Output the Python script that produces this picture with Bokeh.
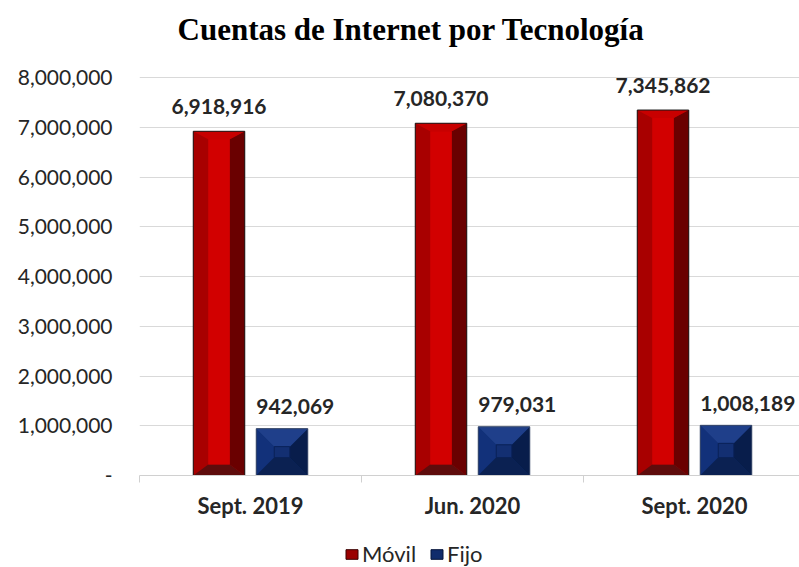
from bokeh.plotting import figure
from bokeh.models import Range1d, FixedTicker, Title, Legend, LegendItem, NumeralTickFormatter
from bokeh.layouts import column
from bokeh.core.properties import value
from bokeh.embed import file_html
from bokeh.resources import INLINE

# ---- data ----
categories = ["Sept. 2019", "Jun. 2020", "Sept. 2020"]
movil = [6918916, 7080370, 7345862]
fijo = [942069, 979031, 1008189]
y_ticks = [0, 1000000, 2000000, 3000000, 4000000, 5000000, 6000000, 7000000, 8000000]
title_text = "Cuentas de Internet por Tecnología"
series_names = ["Móvil", "Fijo"]

FONT = "Lato"
W, H = 799, 530
LEG_H = 37
BL, BR, BT, BB = 139, 0, 55, 55
FW, FH = W - BL - BR, H - BT - BB
CAT_PX = 222.0
XMAX = FW / CAT_PX
YMAX = 8000000
GRID_PX = 398.0               # pixel distance from 0 to the top gridline
PX_PER_Y = GRID_PX / YMAX
YTOP = FH / PX_PER_Y

p = figure(width=W, height=H, output_backend="svg", toolbar_location=None,
           x_range=Range1d(0, XMAX), y_range=Range1d(0, YTOP),
           min_border_left=BL, min_border_right=BR, min_border_top=BT, min_border_bottom=BB)
p.outline_line_color = None
p.background_fill_color = "white"
p.border_fill_color = "white"

p.add_layout(Title(text=title_text, text_font="Liberation Serif", text_font_size="31px",
                   text_font_style="bold", text_color="#000000", align="left",
                   offset=38, standoff=18), "above")

bar_w = 51.5 / CAT_PX
off = 31.5 / CAT_PX


def bevel_bars(fig, centers, vals, bx_px, bt_px, bb_px, cols, outline):
    bx = bx_px / CAT_PX
    L = [c - bar_w / 2 for c in centers]
    R = [c + bar_w / 2 for c in centers]
    T = list(vals)
    byt = bt_px / PX_PER_Y
    byb = bb_px / PX_PER_Y
    fig.quad(left=L, right=R, bottom=[0] * len(T), top=T, fill_color=cols["base"],
             line_color=None)
    left_xs = [[l, l, l + bx, l + bx] for l in L]
    left_ys = [[0, t, t - byt, byb] for t in T]
    fig.patches(left_xs, left_ys, fill_color=cols["left"], line_color=None)
    right_xs = [[r, r, r - bx, r - bx] for r in R]
    right_ys = [[0, t, t - byt, byb] for t in T]
    fig.patches(right_xs, right_ys, fill_color=cols["right"], line_color=None)
    top_xs = [[l, r, r - bx, l + bx] for l, r in zip(L, R)]
    top_ys = [[t, t, t - byt, t - byt] for t in T]
    fig.patches(top_xs, top_ys, fill_color=cols["top"], line_color=None)
    bot_xs = [[l, r, r - bx, l + bx] for l, r in zip(L, R)]
    bot_ys = [[0, 0, byb, byb] for t in T]
    fig.patches(bot_xs, bot_ys, fill_color=cols["bottom"], line_color=None)
    fig.quad(left=[l + bx for l in L], right=[r - bx for r in R], bottom=[byb] * len(T),
             top=[t - byt for t in T], fill_color=cols["center"],
             line_color=cols.get("inner_line"), line_width=1)
    fig.quad(left=L, right=R, bottom=[0] * len(T), top=T, fill_color=None,
             line_color=outline, line_width=1)
    return L, R


idx = list(range(len(categories)))
red_c = [i + 0.5 - off for i in idx]
blue_c = [i + 0.5 + off for i in idx]

red_cols = dict(base="#b00000", left="#a80000", right="#6a0000", top="#c80000",
                bottom="#5e0c0c", center="#d20000")
blue_cols = dict(base="#0e2a6b", left="#12317a", right="#081d4b", top="#1f3f8a",
                 bottom="#0b2152", center="#132f72", inner_line="#0a2258")

rL, rR = bevel_bars(p, red_c, movil, 15, 8, 11, red_cols, "#1a1a1a")
bL, bR = bevel_bars(p, blue_c, fijo, 18, 18, 18, blue_cols, "#3a4a6a")

# data labels
p.text(x=red_c, y=movil, text=[f"{v:,}" for v in movil], text_align="center",
       text_baseline="alphabetic", y_offset=-25, text_font=value(FONT),
       text_font_size="21px", text_font_style="bold", text_color="#262626")
p.text(x=bL, y=fijo, text=[f"{v:,}" for v in fijo], text_align="left",
       text_baseline="alphabetic", y_offset=-22, text_font=value(FONT),
       text_font_size="21px", text_font_style="bold", text_color="#262626")

# y axis
p.yaxis.ticker = FixedTicker(ticks=y_ticks)
p.yaxis.formatter = NumeralTickFormatter(format="0,0")
p.yaxis.major_label_overrides = {0: "-"}
p.yaxis.axis_line_color = None
p.yaxis.major_tick_line_color = None
p.yaxis.major_tick_out = 0
p.yaxis.minor_tick_line_color = None
p.yaxis.minor_tick_out = 0
p.yaxis.major_label_standoff = 27
p.yaxis.major_label_text_font = FONT
p.yaxis.major_label_text_font_size = "21px"
p.yaxis.major_label_text_color = "#262626"

p.ygrid.ticker = FixedTicker(ticks=y_ticks)
p.ygrid.grid_line_color = "#d9d9d9"
p.ygrid.grid_line_width = 1
p.xgrid.grid_line_color = None

# x axis
centers = [i + 0.5 for i in idx]
bounds = list(range(len(categories) + 1))
p.xaxis.ticker = FixedTicker(ticks=centers, minor_ticks=bounds)
p.xaxis.major_label_overrides = {c: name for c, name in zip(centers, categories)}
p.xaxis.axis_line_color = "#d0d0d0"
p.xaxis.axis_line_width = 1
p.xaxis.major_tick_line_color = None
p.xaxis.major_tick_out = 0
p.xaxis.minor_tick_line_color = "#d0d0d0"
p.xaxis.minor_tick_out = 7
p.xaxis.minor_tick_in = 0
p.xaxis.major_label_standoff = 9
p.xaxis.major_label_text_font = FONT
p.xaxis.major_label_text_font_size = "22px"
p.xaxis.major_label_text_font_style = "bold"
p.xaxis.major_label_text_color = "#262626"

# legend in its own strip below the chart (its bars lie outside the visible y range)
lf = figure(width=W, height=LEG_H, output_backend="svg", toolbar_location=None,
            x_range=Range1d(0, XMAX), y_range=Range1d(-2, -1),
            min_border_left=0, min_border_right=0, min_border_top=0, min_border_bottom=0)
lf.axis.visible = False
lf.grid.visible = False
lf.outline_line_color = None
lf.background_fill_color = "white"
lf.border_fill_color = "white"
r_leg = lf.quad(left=rL, right=rR, bottom=[0] * len(movil), top=movil,
                fill_color="#9a0000", line_color="#3a0000")
b_leg = lf.quad(left=bL, right=bR, bottom=[0] * len(fijo), top=fijo,
                fill_color="#102c6c", line_color="#05143a")
legend = Legend(items=[LegendItem(label=series_names[0], renderers=[r_leg]),
                       LegendItem(label=series_names[1], renderers=[b_leg])],
                orientation="horizontal", location=(205, 0),
                glyph_width=15, glyph_height=12, label_text_font=FONT,
                label_text_font_size="22px", label_text_color="#262626",
                label_standoff=3, spacing=13, padding=0, margin=0,
                border_line_color=None, background_fill_alpha=0)
lf.add_layout(legend, "center")

layout = column(p, lf, spacing=0)
open("out.html", "w").write(file_html(layout, INLINE))
